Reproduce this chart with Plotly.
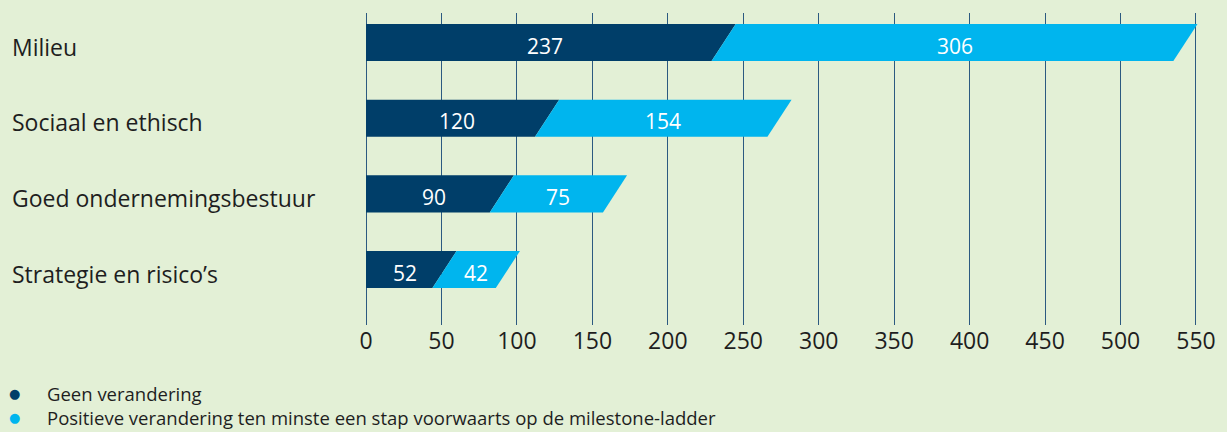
import plotly.graph_objects as go

categories = ["Milieu", "Sociaal en ethisch", "Goed ondernemingsbestuur", "Strategie en risico’s"]
geen = [237, 120, 90, 52]
positief = [306, 154, 75, 42]
series_names = ["Geen verandering",
                "Positieve verandering ten minste een stap voorwaarts op de milestone-ladder"]
x_ticks = [0, 50, 100, 150, 200, 250, 300, 350, 400, 450, 500, 550]

DARK = "#003E69"
LIGHT = "#00B5EE"
BG = "#E3F0D6"
GRID = "#2C5A80"
FONT = "Open Sans"
TXT = "#1E1E1E"

SLANT = 16.0   # horizontal offset of slanted edge, data units
HALF = 0.245   # half bar thickness, category units

fig = go.Figure()
n = len(categories)
for i, cat in enumerate(categories):
    yc = n - 1 - i
    v1 = geen[i]
    tot = geen[i] + positief[i]
    yb, yt = yc - HALF, yc + HALF
    h = SLANT / 2
    fig.add_trace(go.Scatter(
        x=[0, v1 - h, v1 + h, 0, 0], y=[yb, yb, yt, yt, yb],
        fill="toself", fillcolor=DARK, mode="lines", line=dict(width=0, color=DARK),
        showlegend=False, hoverinfo="skip", name=series_names[0]))
    fig.add_trace(go.Scatter(
        x=[v1 - h, tot - h, tot + h, v1 + h, v1 - h], y=[yb, yb, yt, yt, yb],
        fill="toself", fillcolor=LIGHT, mode="lines", line=dict(width=0, color=LIGHT),
        showlegend=False, hoverinfo="skip", name=series_names[1]))
    for xv, t in [(v1 / 2, geen[i]), ((v1 + tot) / 2, positief[i])]:
        fig.add_annotation(x=xv, y=yc, xref="x", yref="y", yshift=-3,
                           text=str(t), showarrow=False,
                           font=dict(family=FONT, size=21, color="white"))
    fig.add_annotation(x=0, xref="paper", xshift=-353, xanchor="left",
                       y=yc, yref="y", yshift=-4, text=cat, showarrow=False,
                       font=dict(family=FONT, size=23, color=TXT))

# legend drawn as annotations (one block for dots, one for labels)
LEG_SIZE = 18.5
dots = "<br>".join(f'<span style="color:{c};font-size:13px">●</span>' for c in [DARK, LIGHT])
fig.add_annotation(x=0, xref="paper", xshift=-349, xanchor="center",
                   y=0, yref="paper", yshift=-80, yanchor="middle",
                   text=dots, showarrow=False, align="center",
                   font=dict(family="DejaVu Sans", size=LEG_SIZE, color=DARK))
fig.add_annotation(x=0, xref="paper", xshift=-318, xanchor="left",
                   y=0, yref="paper", yshift=-80, yanchor="middle",
                   text="<br>".join(series_names), showarrow=False, align="left",
                   font=dict(family=FONT, size=LEG_SIZE, color=TXT))

fig.update_layout(
    width=1227, height=432,
    margin=dict(l=363, r=28, t=13, b=107, autoexpand=False),
    paper_bgcolor=BG, plot_bgcolor=BG,
    xaxis=dict(range=[-2, 552], tickvals=x_ticks, showgrid=True, gridcolor=GRID,
               gridwidth=1, zeroline=False, showline=False, ticks="",
               tickfont=dict(family=FONT, size=23, color=TXT), fixedrange=True),
    yaxis=dict(range=[-0.733, 3.39], showgrid=False, zeroline=False,
               showticklabels=False, showline=False, fixedrange=True),
    showlegend=False,
)

fig.write_html("out.html", config={"displayModeBar": False},
               post_script="document.body.style.margin='0';document.body.style.overflow='hidden';document.body.style.background='#E3F0D6';")
